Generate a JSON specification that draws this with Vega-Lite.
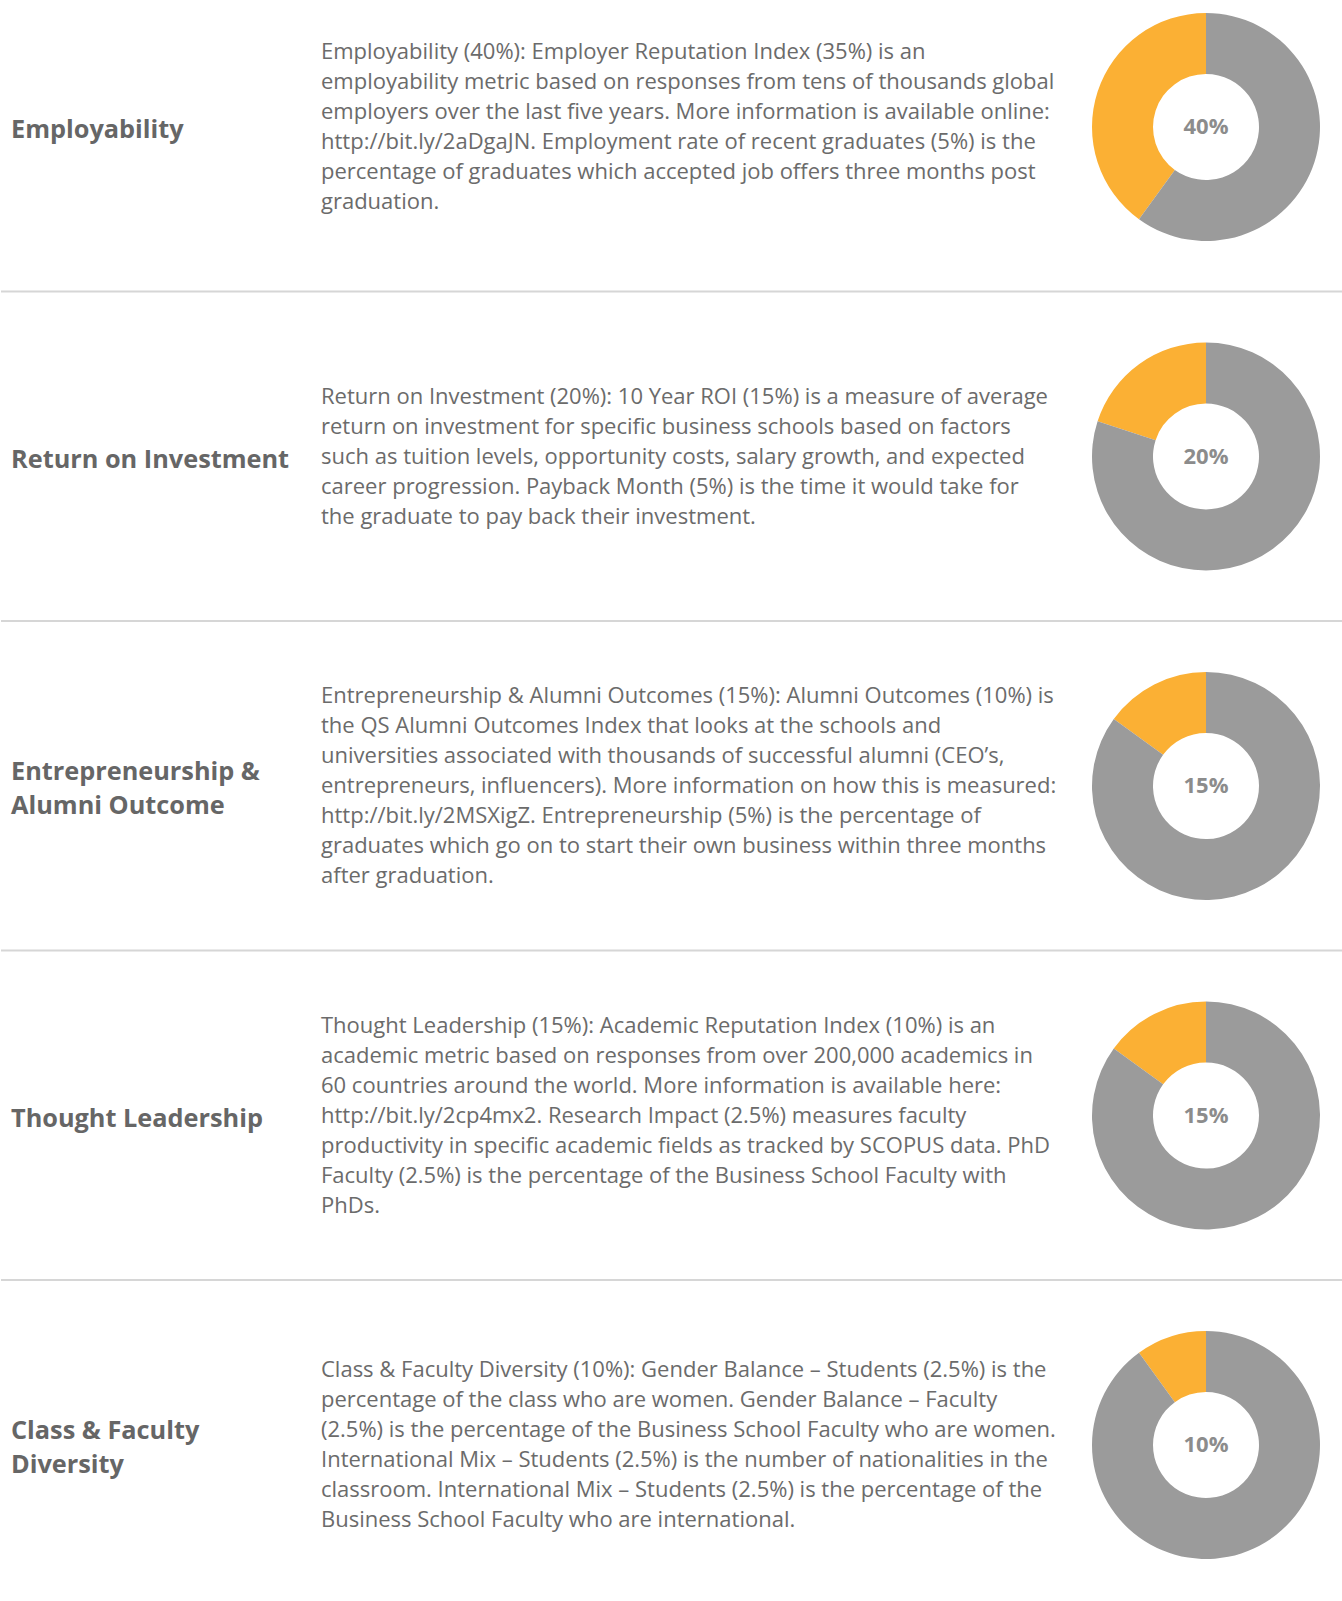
{
  "$schema": "https://vega.github.io/schema/vega-lite/v6.json",
  "padding": 0,
  "background": "white",
  "spacing": 0,
  "bounds": "flush",
  "config": {"view": {"stroke": null}},
  "datasets": {
    "criteria": [
      {"rank": 1, "criterion": "Employability", "label": "Employability", "share": 0.40,
       "description": "Employability (40%): Employer Reputation Index (35%) is an\nemployability metric based on responses from tens of thousands global\nemployers over the last five years. More information is available online:\nhttp://bit.ly/2aDgaJN. Employment rate of recent graduates (5%) is the\npercentage of graduates which accepted job offers three months post\ngraduation."},
      {"rank": 2, "criterion": "Return on Investment", "label": "Return on Investment", "share": 0.20,
       "description": "Return on Investment (20%): 10 Year ROI  (15%) is a measure of average\nreturn on investment for specific business schools based on factors\nsuch as tuition levels, opportunity costs, salary growth, and expected\ncareer progression. Payback Month (5%) is the time it would take for\nthe graduate to pay back their investment."},
      {"rank": 3, "criterion": "Entrepreneurship & Alumni Outcome", "label": "Entrepreneurship &\nAlumni Outcome", "share": 0.15,
       "description": "Entrepreneurship & Alumni Outcomes (15%): Alumni Outcomes (10%) is\nthe QS Alumni Outcomes Index that looks at the schools and\nuniversities associated with thousands of successful alumni (CEO’s,\nentrepreneurs, influencers). More information on how this is measured:\nhttp://bit.ly/2MSXigZ. Entrepreneurship (5%) is the percentage of\ngraduates which go on to start their own business within three months\nafter graduation."},
      {"rank": 4, "criterion": "Thought Leadership", "label": "Thought Leadership", "share": 0.15,
       "description": "Thought Leadership (15%): Academic Reputation Index (10%) is an\nacademic metric based on responses from over 200,000 academics in\n60 countries around the world. More information is available here:\nhttp://bit.ly/2cp4mx2. Research Impact (2.5%) measures faculty\nproductivity in specific academic fields as tracked by SCOPUS data.  PhD\nFaculty (2.5%) is the percentage of the Business School Faculty with\nPhDs."},
      {"rank": 5, "criterion": "Class & Faculty Diversity", "label": "Class & Faculty\nDiversity", "share": 0.10,
       "description": "Class & Faculty Diversity  (10%): Gender Balance – Students (2.5%) is the\npercentage of the class who are women. Gender Balance – Faculty\n(2.5%) is the percentage of the Business School Faculty who are women.\nInternational Mix – Students (2.5%) is the number of nationalities in the\nclassroom. International Mix – Students (2.5%) is the percentage of the\nBusiness School Faculty who are international."}
    ],
    "parts": [
      {"criterion": "Employability", "part": "Weight", "value": 40},
      {"criterion": "Employability", "part": "Remainder", "value": 60},
      {"criterion": "Return on Investment", "part": "Weight", "value": 20},
      {"criterion": "Return on Investment", "part": "Remainder", "value": 80},
      {"criterion": "Entrepreneurship & Alumni Outcome", "part": "Weight", "value": 15},
      {"criterion": "Entrepreneurship & Alumni Outcome", "part": "Remainder", "value": 85},
      {"criterion": "Thought Leadership", "part": "Weight", "value": 15},
      {"criterion": "Thought Leadership", "part": "Remainder", "value": 85},
      {"criterion": "Class & Faculty Diversity", "part": "Weight", "value": 10},
      {"criterion": "Class & Faculty Diversity", "part": "Remainder", "value": 90}
    ]
  },
  "hconcat": [
    {
      "width": 20, "height": 1601,
      "resolve": {"scale": {"y": "independent"}},
      "layer": [
        {"data": {"name": "criteria"}, "transform": [{"filter": "datum.rank > 1"}],
         "mark": {"type": "rule", "color": "#d6d6d6", "strokeWidth": 2},
         "encoding": {"y": {"field": "criterion", "type": "nominal", "sort": ["Return on Investment", "Entrepreneurship & Alumni Outcome", "Thought Leadership", "Class & Faculty Diversity"], "scale": {"type": "point", "padding": 0.92944, "align": 0.4759}, "axis": null}}},
        {"data": {"name": "criteria"},
         "mark": {"type": "text", "align": "left", "baseline": "middle", "font": "Open Sans", "fontSize": 25.3, "fontWeight": "bold", "color": "#666666", "lineBreak": "\n", "lineHeight": 34,
                  "dy": {"expr": "3 - (length(split(datum.label, '\\n')) - 1) * 17"}},
         "encoding": {"y": {"field": "criterion", "type": "nominal", "sort": ["Employability", "Return on Investment", "Entrepreneurship & Alumni Outcome", "Thought Leadership", "Class & Faculty Diversity"], "scale": {"type": "point", "padding": 0.42944, "align": 0.4488}, "axis": null},
                      "text": {"field": "label", "type": "nominal"}}}
      ]
    },
    {
      "width": 600, "height": 1601,
      "resolve": {"scale": {"y": "independent"}},
      "layer": [
        {"data": {"name": "criteria"}, "transform": [{"filter": "datum.rank > 1"}],
         "mark": {"type": "rule", "color": "#d6d6d6", "strokeWidth": 2},
         "encoding": {"y": {"field": "criterion", "type": "nominal", "sort": ["Return on Investment", "Entrepreneurship & Alumni Outcome", "Thought Leadership", "Class & Faculty Diversity"], "scale": {"type": "point", "padding": 0.92944, "align": 0.4759}, "axis": null}}},
        {"data": {"name": "criteria"},
         "mark": {"type": "text", "align": "left", "baseline": "middle", "font": "Open Sans", "fontSize": 22, "color": "#6b6b6b", "lineBreak": "\n", "lineHeight": 30,
                  "dy": {"expr": "-(length(split(datum.description, '\\n')) - 1) * 15"}},
         "encoding": {"y": {"field": "criterion", "type": "nominal", "sort": ["Employability", "Return on Investment", "Entrepreneurship & Alumni Outcome", "Thought Leadership", "Class & Faculty Diversity"], "scale": {"type": "point", "padding": 0.42944, "align": 0.4488}, "axis": null},
                      "text": {"field": "description", "type": "nominal"}}}
      ]
    },
    {
      "width": 448, "height": 1601,
      "layer": [
        {"data": {"name": "criteria"}, "transform": [{"filter": "datum.rank > 1"}],
         "mark": {"type": "rule", "color": "#d6d6d6", "strokeWidth": 2},
         "encoding": {"y": {"field": "criterion", "type": "nominal", "sort": ["Return on Investment", "Entrepreneurship & Alumni Outcome", "Thought Leadership", "Class & Faculty Diversity"], "scale": {"type": "point", "padding": 0.92944, "align": 0.4759}, "axis": null}}}
      ]
    },
    {
      "width": 274, "height": 1601,
      "resolve": {"scale": {"y": "independent"}},
      "layer": [
        {"data": {"name": "criteria"}, "transform": [{"filter": "datum.rank > 1"}],
         "mark": {"type": "rule", "color": "#d6d6d6", "strokeWidth": 2},
         "encoding": {"y": {"field": "criterion", "type": "nominal", "sort": ["Return on Investment", "Entrepreneurship & Alumni Outcome", "Thought Leadership", "Class & Faculty Diversity"], "scale": {"type": "point", "padding": 0.92944, "align": 0.4759}, "axis": null}}},
        {"data": {"name": "parts"},
         "transform": [{"stack": "value", "groupby": ["criterion"], "sort": [{"field": "part", "order": "ascending"}], "as": ["v0", "v1"]}],
         "mark": {"type": "arc", "innerRadius": 53, "outerRadius": 114},
         "encoding": {"y": {"field": "criterion", "type": "nominal", "sort": ["Employability", "Return on Investment", "Entrepreneurship & Alumni Outcome", "Thought Leadership", "Class & Faculty Diversity"], "scale": {"type": "point", "padding": 0.42944, "align": 0.4488}, "axis": null},
                      "theta": {"field": "v0", "type": "quantitative", "scale": {"domain": [0, 100]}},
                      "theta2": {"field": "v1"},
                      "color": {"field": "part", "type": "nominal", "scale": {"domain": ["Remainder", "Weight"], "range": ["#9b9b9b", "#fbb034"]}, "legend": null}}},
        {"data": {"name": "criteria"},
         "mark": {"type": "text", "align": "center", "baseline": "middle", "font": "Open Sans", "fontSize": 22, "fontWeight": "bold", "color": "#8c8c8c"},
         "encoding": {"y": {"field": "criterion", "type": "nominal", "sort": ["Employability", "Return on Investment", "Entrepreneurship & Alumni Outcome", "Thought Leadership", "Class & Faculty Diversity"], "scale": {"type": "point", "padding": 0.42944, "align": 0.4488}, "axis": null},
                      "text": {"field": "share", "type": "quantitative", "format": ".0%"}}}
      ]
    }
  ]
}
